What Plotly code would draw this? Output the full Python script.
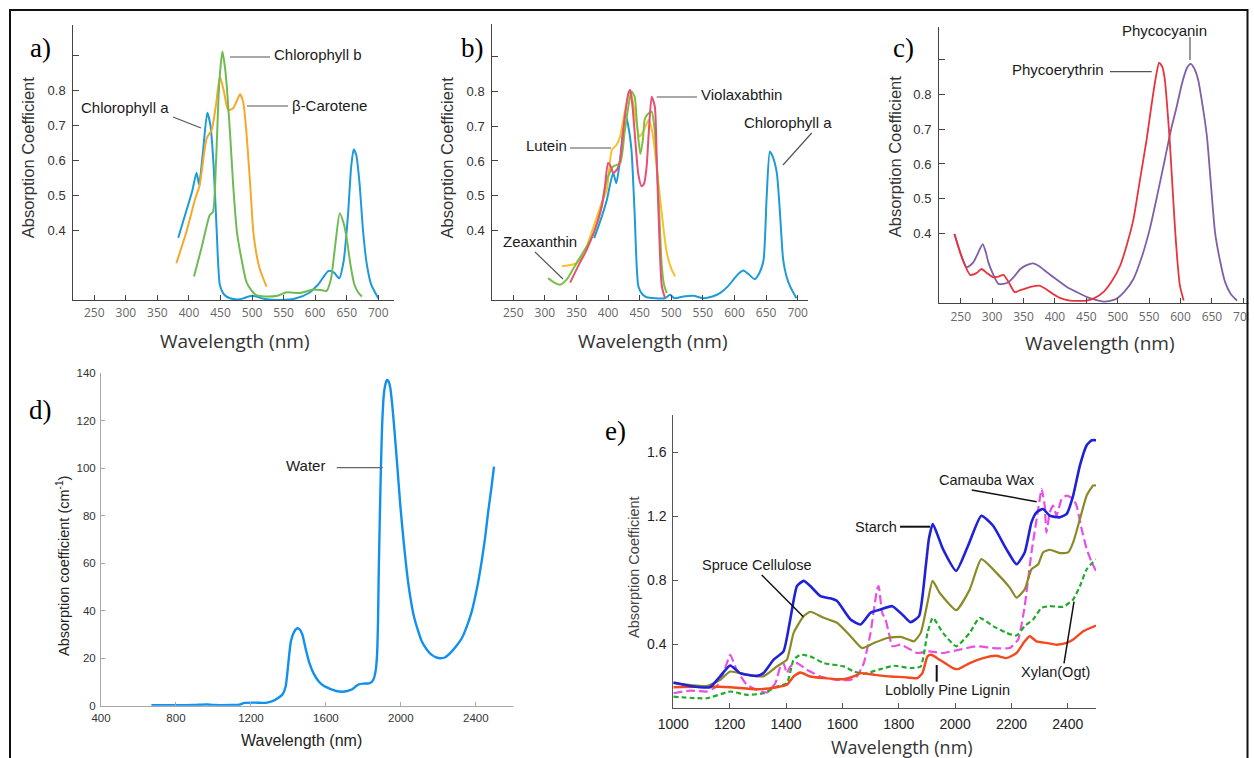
import plotly.graph_objects as go

# ---------------- data ----------------
# a) chlorophylls / carotene
a_chla_x = [383, 395, 405, 412, 416, 422, 429, 434, 439, 444, 449, 456, 465, 480, 500, 520, 545, 570, 590, 605, 621, 630, 638, 645, 652, 657, 661, 665, 670, 676, 682, 689, 700]
a_chla_y = [0.378, 0.45, 0.51, 0.564, 0.53, 0.62, 0.735, 0.70, 0.586, 0.395, 0.243, 0.215, 0.205, 0.202, 0.212, 0.203, 0.2, 0.205, 0.22, 0.245, 0.283, 0.278, 0.262, 0.31, 0.443, 0.58, 0.63, 0.615, 0.54, 0.395, 0.30, 0.243, 0.205]
a_chlb_x = [408, 420, 433, 438, 443, 448, 453, 458, 465, 470, 476, 484, 491, 500, 507, 520, 540, 555, 576, 597, 610, 618, 625, 632, 639, 645, 650, 656, 662, 668, 674]
a_chlb_y = [0.267, 0.35, 0.443, 0.452, 0.6, 0.82, 0.91, 0.85, 0.68, 0.53, 0.395, 0.31, 0.252, 0.225, 0.214, 0.21, 0.212, 0.222, 0.22, 0.23, 0.228, 0.226, 0.26, 0.36, 0.448, 0.42, 0.376, 0.30, 0.245, 0.222, 0.21]
a_car_x = [380, 396, 410, 417, 428, 436, 443, 449, 455, 462, 470, 476, 481, 486, 491, 497, 502, 507, 512, 518, 523]
a_car_y = [0.305, 0.395, 0.49, 0.528, 0.662, 0.686, 0.76, 0.838, 0.80, 0.743, 0.748, 0.77, 0.788, 0.765, 0.68, 0.53, 0.395, 0.33, 0.29, 0.26, 0.238]

# b) xanthophylls
b_chla_x = [378, 390, 398, 408, 413, 419, 427, 432, 437, 442, 448, 455, 461, 475, 490, 498, 505, 519, 535, 551, 565, 577, 590, 598, 606, 614, 622, 632, 640, 646, 651, 656, 661, 667, 672, 677, 682, 688, 698]
b_chla_y = [0.378, 0.44, 0.488, 0.565, 0.536, 0.603, 0.737, 0.70, 0.632, 0.45, 0.239, 0.215, 0.208, 0.205, 0.205, 0.215, 0.205, 0.21, 0.212, 0.205, 0.21, 0.22, 0.24, 0.258, 0.275, 0.285, 0.275, 0.26, 0.28, 0.315, 0.5, 0.627, 0.61, 0.565, 0.45, 0.316, 0.27, 0.239, 0.205]
b_lut_x = [327, 350, 365, 377, 390, 398, 406, 413, 419, 427, 435, 442, 450, 457, 464, 468, 472, 477, 482, 488, 493, 500, 506]
b_lut_y = [0.297, 0.306, 0.35, 0.411, 0.48, 0.517, 0.632, 0.645, 0.67, 0.747, 0.804, 0.74, 0.67, 0.69, 0.718, 0.70, 0.66, 0.58, 0.498, 0.40, 0.335, 0.29, 0.268]
b_zea_x = [305, 315, 324, 335, 350, 365, 377, 390, 398, 408, 419, 426, 432, 437, 442, 446, 451, 455, 458, 463, 469, 473, 477, 481, 485, 489, 493]
b_zea_y = [0.263, 0.25, 0.244, 0.26, 0.306, 0.35, 0.392, 0.47, 0.546, 0.584, 0.593, 0.68, 0.756, 0.80, 0.785, 0.70, 0.62, 0.66, 0.72, 0.735, 0.742, 0.70, 0.6, 0.45, 0.297, 0.24, 0.22]
b_vio_x = [340, 355, 365, 377, 390, 395, 400, 404, 408, 414, 419, 426, 432, 435, 439, 443, 448, 453, 457, 461, 465, 469, 474, 477, 480, 485, 490]
b_vio_y = [0.25, 0.306, 0.34, 0.392, 0.47, 0.527, 0.594, 0.585, 0.565, 0.575, 0.603, 0.72, 0.794, 0.804, 0.75, 0.66, 0.56, 0.527, 0.535, 0.584, 0.70, 0.785, 0.756, 0.6, 0.44, 0.24, 0.206]

# c) phycobilins
c_pe_x = [240, 250, 257, 265, 275, 283, 292, 302, 310, 318, 326, 336, 345, 355, 365, 375, 385, 397, 410, 424, 437, 450, 463, 477, 490, 504, 515, 525, 535, 546, 553, 560, 566, 571, 575, 579, 583, 587, 591, 595, 599, 605]
c_pe_y = [0.398, 0.34, 0.307, 0.28, 0.285, 0.297, 0.285, 0.273, 0.275, 0.28, 0.26, 0.23, 0.236, 0.242, 0.247, 0.249, 0.24, 0.225, 0.212, 0.206, 0.205, 0.206, 0.213, 0.23, 0.26, 0.307, 0.37, 0.44, 0.55, 0.67, 0.76, 0.843, 0.892, 0.88, 0.843, 0.76, 0.661, 0.54, 0.42, 0.32, 0.249, 0.206]
c_pc_x = [240, 250, 259.5, 270, 278, 285, 290, 294, 302, 310, 318, 326, 335, 345, 355, 365, 375, 387, 400, 419, 435, 451, 465, 477, 488, 498, 510, 525, 538, 551, 563, 575, 585, 594, 602, 610, 616, 622, 628, 635, 642, 648, 655, 663, 671, 680, 690]
c_pc_y = [0.398, 0.34, 0.302, 0.316, 0.345, 0.369, 0.345, 0.316, 0.28, 0.254, 0.254, 0.259, 0.275, 0.297, 0.308, 0.313, 0.305, 0.288, 0.27, 0.245, 0.23, 0.216, 0.208, 0.203, 0.205, 0.211, 0.23, 0.268, 0.33, 0.412, 0.51, 0.613, 0.70, 0.766, 0.83, 0.876, 0.889, 0.875, 0.843, 0.77, 0.68, 0.55, 0.402, 0.32, 0.259, 0.225, 0.206]

# d) water
d_x = [669, 800, 900, 961, 1000, 1100, 1138, 1165, 1220, 1280, 1315, 1345, 1368, 1385, 1395, 1405, 1413, 1430, 1448, 1462, 1475, 1492, 1510, 1535, 1563, 1590, 1617, 1650, 1687, 1715, 1740, 1760, 1776, 1800, 1829, 1845, 1856, 1866, 1873, 1878, 1882, 1888, 1894, 1900, 1909, 1918, 1926, 1935, 1944, 1953, 1962, 1980, 1997, 2015, 2032, 2050, 2068, 2090, 2112, 2140, 2165, 2190, 2210, 2235, 2263, 2295, 2325, 2350, 2378, 2405, 2431, 2450, 2466, 2482, 2497]
d_y = [0.2, 0.2, 0.3, 0.5, 0.3, 0.3, 0.4, 1.2, 1.3, 1.2, 1.9, 3.2, 4.7, 8, 14.3, 22, 27, 31, 32.6, 32, 29.8, 24, 18.5, 13.5, 10.1, 8.3, 7.3, 6.3, 5.9, 6.2, 6.9, 8.2, 9, 9.3, 9.4, 10, 11.5, 15, 21.4, 35, 56.4, 80, 101.4, 118, 130.9, 135.5, 137.2, 136.5, 133.7, 127.5, 119.6, 102, 84.5, 69, 56.4, 46, 38.2, 32, 27, 23.5, 21.4, 20.3, 20, 20.3, 22.1, 25, 28.4, 33, 39.6, 49, 60.7, 71, 81.7, 91, 100.7]

# e) plant materials
e_starch_x = [1000, 1059, 1130, 1166, 1202, 1237, 1297, 1320, 1356, 1391, 1415, 1439, 1463, 1486, 1522, 1557, 1581, 1629, 1664, 1700, 1735, 1777, 1818, 1842, 1872, 1896, 1907, 1921, 1957, 2004, 2046, 2093, 2135, 2182, 2218, 2247, 2271, 2289, 2312, 2336, 2372, 2396, 2419, 2443, 2467, 2485, 2500]
e_starch_y = [0.161, 0.14, 0.132, 0.2, 0.268, 0.22, 0.203, 0.22, 0.304, 0.356, 0.556, 0.765, 0.797, 0.765, 0.702, 0.688, 0.671, 0.556, 0.524, 0.598, 0.618, 0.639, 0.577, 0.539, 0.577, 0.891, 1.06, 1.153, 0.996, 0.86, 1.017, 1.205, 1.142, 0.996, 0.901, 0.975, 1.163, 1.226, 1.247, 1.205, 1.195, 1.216, 1.331, 1.52, 1.646, 1.677, 1.677]
e_cell_x = [1000, 1119, 1166, 1202, 1261, 1320, 1368, 1403, 1427, 1463, 1486, 1534, 1581, 1629, 1670, 1712, 1759, 1807, 1854, 1878, 1902, 1920, 1945, 2004, 2052, 2093, 2146, 2194, 2218, 2247, 2271, 2295, 2312, 2336, 2372, 2401, 2419, 2443, 2467, 2490, 2500]
e_cell_y = [0.157, 0.14, 0.178, 0.23, 0.21, 0.2, 0.262, 0.304, 0.472, 0.577, 0.604, 0.566, 0.535, 0.451, 0.377, 0.409, 0.44, 0.447, 0.419, 0.472, 0.66, 0.797, 0.723, 0.614, 0.744, 0.933, 0.849, 0.755, 0.692, 0.744, 0.87, 0.901, 0.975, 0.992, 0.971, 0.975, 1.038, 1.184, 1.331, 1.394, 1.394]
e_xylan_x = [1000, 1119, 1202, 1261, 1320, 1368, 1403, 1427, 1451, 1486, 1534, 1605, 1640, 1676, 1735, 1783, 1842, 1878, 1902, 1921, 1957, 2004, 2052, 2087, 2135, 2182, 2218, 2247, 2277, 2307, 2336, 2384, 2419, 2443, 2467, 2500]
e_xylan_y = [0.073, 0.063, 0.105, 0.084, 0.094, 0.136, 0.157, 0.304, 0.335, 0.325, 0.283, 0.262, 0.231, 0.216, 0.245, 0.266, 0.252, 0.262, 0.472, 0.566, 0.472, 0.388, 0.472, 0.566, 0.514, 0.472, 0.455, 0.514, 0.556, 0.629, 0.639, 0.635, 0.681, 0.765, 0.87, 0.933]
e_lignin_x = [1000, 1119, 1202, 1297, 1368, 1403, 1427, 1451, 1486, 1534, 1605, 1640, 1664, 1712, 1771, 1818, 1866, 1884, 1902, 1915, 1945, 1992, 2010, 2052, 2099, 2146, 2182, 2218, 2247, 2265, 2289, 2324, 2360, 2396, 2419, 2455, 2500]
e_lignin_y = [0.132, 0.136, 0.132, 0.119, 0.132, 0.147, 0.199, 0.224, 0.199, 0.189, 0.182, 0.199, 0.22, 0.21, 0.199, 0.195, 0.189, 0.22, 0.325, 0.335, 0.304, 0.252, 0.245, 0.283, 0.314, 0.329, 0.314, 0.346, 0.419, 0.451, 0.419, 0.409, 0.398, 0.409, 0.43, 0.482, 0.518]
e_wax_x = [1000, 1059, 1119, 1154, 1178, 1202, 1225, 1261, 1297, 1332, 1362, 1380, 1391, 1403, 1415, 1439, 1474, 1522, 1581, 1629, 1652, 1676, 1700, 1723, 1729, 1741, 1753, 1765, 1777, 1807, 1842, 1866, 1909, 1957, 2016, 2075, 2135, 2194, 2224, 2247, 2271, 2295, 2307, 2318, 2324, 2336, 2348, 2360, 2378, 2396, 2419, 2431, 2449, 2467, 2485, 2500]
e_wax_y = [0.094, 0.111, 0.105, 0.136, 0.22, 0.335, 0.241, 0.147, 0.115, 0.099, 0.157, 0.262, 0.283, 0.22, 0.262, 0.283, 0.241, 0.199, 0.178, 0.178, 0.199, 0.283, 0.472, 0.744, 0.765, 0.598, 0.556, 0.472, 0.388, 0.398, 0.367, 0.346, 0.356, 0.346, 0.367, 0.388, 0.377, 0.377, 0.43, 0.639, 0.975, 1.247, 1.373, 1.268, 1.1, 1.226, 1.268, 1.205, 1.31, 1.331, 1.31, 1.268, 1.122, 0.996, 0.912, 0.86]

vis_ticks = [250, 300, 350, 400, 450, 500, 550, 600, 650, 700]
vis_yticks = [0.4, 0.5, 0.6, 0.7, 0.8]
vis_minor_yticks = [0.9]
d_xticks = [400, 800, 1200, 1600, 2000, 2400]
d_yticks = [0, 20, 40, 60, 80, 100, 120, 140]
e_xticks = [1000, 1200, 1400, 1600, 1800, 2000, 2200, 2400]
e_yticks = [0.4, 0.8, 1.2, 1.6]

# ---------------- layout helpers ----------------
W, H = 1254, 758
def PX(p):
    return p / W
def PY(p):
    return 1 - p / H

fig = go.Figure()

def add(x, y, color, axis, width=2, dash=None, smooth=0.6):
    fig.add_trace(go.Scatter(
        x=x, y=y, mode="lines", xaxis="x" + axis, yaxis="y" + axis,
        line=dict(color=color, width=width, dash=dash, shape="spline", smoothing=smooth),
        showlegend=False, hoverinfo="skip"))

# panel a
add(a_chla_x, a_chla_y, "#1c9bd8", "", 2)
add(a_car_x, a_car_y, "#f5a82a", "", 2)
add(a_chlb_x, a_chlb_y, "#6fbb52", "", 2)
# panel b
add(b_chla_x, b_chla_y, "#1c9bd8", "2", 2)
add(b_lut_x, b_lut_y, "#f8c12a", "2", 2)
add(b_zea_x, b_zea_y, "#7ac143", "2", 2)
add(b_vio_x, b_vio_y, "#e84f72", "2", 2)
# panel c
add(c_pc_x, c_pc_y, "#7f5fa8", "3", 1.8)
add(c_pe_x, c_pe_y, "#e8343c", "3", 1.8)
# panel d
add(d_x, d_y, "#1190ee", "4", 2.4, smooth=0.5)
# panel e
add(e_wax_x, e_wax_y, "#ea4fe4", "5", 2.2, dash="9px,4px", smooth=0.4)
add(e_xylan_x, e_xylan_y, "#22aa2a", "5", 2.2, dash="5px,3px", smooth=0.5)
add(e_lignin_x, e_lignin_y, "#f4491e", "5", 2.4, smooth=0.5)
add(e_cell_x, e_cell_y, "#8a8a26", "5", 2.2, smooth=0.5)
add(e_starch_x, e_starch_y, "#1f22d6", "5", 2.6, smooth=0.5)

def xax(dom, rng, ticks, font, color="#444", standoff=2, tlen=5):
    return dict(domain=[PX(dom[0]), PX(dom[1])], range=rng, tickvals=ticks,
                showline=True, linecolor=color, linewidth=1, ticks="inside",
                ticklen=tlen, tickcolor=color, showgrid=False, zeroline=False,
                tickfont=font, ticklabelstandoff=standoff, fixedrange=True,
                automargin=False)

def yax(dom, rng, ticks, anchor, font, color="#444", standoff=4, tlen=6, minor=None):
    d = dict(domain=[PY(dom[1]), PY(dom[0])], range=rng, tickvals=ticks,
             showline=True, linecolor=color, linewidth=1, ticks="inside",
             ticklen=tlen, tickcolor=color, showgrid=False, zeroline=False,
             tickfont=font, anchor=anchor, ticklabelstandoff=standoff, fixedrange=True,
             automargin=False)
    if minor is not None:
        d["minor"] = dict(tickvals=minor, ticks="inside", ticklen=tlen, tickcolor=color, showgrid=False)
    return d

vis_xfont = dict(family="Open Sans", size=12, color="#666")
vis_yfont = dict(family="Liberation Sans, Arial", size=13, color="#333")
d_font = dict(family="Liberation Sans, Arial", size=11.5, color="#333")
e_font = dict(family="Liberation Sans, Arial", size=14, color="#222")

fig.update_layout(
    width=W, height=H, margin=dict(l=0, r=0, t=0, b=0, autoexpand=False),
    paper_bgcolor="white", plot_bgcolor="white",
    xaxis=xax((73.3, 394.3), [216.7, 725.4], vis_ticks, vis_xfont),
    yaxis=yax((25, 300), [0.2, 0.986], vis_yticks, "x", vis_yfont, minor=vis_minor_yticks),
    xaxis2=dict(xax((492.3, 808.3), [216.8, 716.8], vis_ticks, vis_xfont), anchor="y2"),
    yaxis2=yax((24, 300), [0.2, 0.994], vis_yticks, "x2", vis_yfont, minor=vis_minor_yticks),
    xaxis3=dict(xax((939, 1252), [215.4, 713.8], vis_ticks, vis_xfont), anchor="y3"),
    yaxis3=yax((26.7, 303.3), [0.198, 0.996], vis_yticks, "x3", vis_yfont, minor=vis_minor_yticks),
    xaxis4=dict(xax((101, 513.3), [400, 2600], d_xticks, d_font,
                    color="#a8a8a8", standoff=1, tlen=4), anchor="y4"),
    yaxis4=yax((373.3, 705.7), [0, 140], d_yticks, "x4", d_font,
               color="#a8a8a8", standoff=2, tlen=4),
    xaxis5=dict(xax((673.3, 1096), [1000, 2500], e_xticks, e_font,
                    color="#555", standoff=3, tlen=5), anchor="y5"),
    yaxis5=yax((415, 708.3), [0, 1.835], e_yticks, "x5", e_font,
               color="#555", standoff=3, tlen=5),
)

ann = []
def text(t, x, y, size, family="Liberation Sans, Arial", color="#1a1a1a", angle=0):
    ann.append(dict(text=t, x=PX(x), y=PY(y), xref="paper", yref="paper",
                    xanchor="center", yanchor="middle", showarrow=False,
                    textangle=angle, font=dict(family=family, size=size, color=color)))

# panel letters
for t, x, y in [("a)", 40, 48), ("b)", 472.5, 47.5), ("c)", 903, 47.5), ("d)", 40, 410), ("e)", 615, 431)]:
    text(t, x, y, 27, family="Liberation Serif, Times New Roman", color="#000")

# axis titles
for x, y in [(28.3, 157), (446.7, 157.7), (895, 156.3)]:
    text("Absorption Coefficient", x, y, 16.5, color="#333", angle=-90)
for x, y in [(235, 340.7), (653.3, 340.7), (1100, 343.3)]:
    text("Wavelength (nm)", x, y, 19, family="Open Sans", color="#333")
text("Absorption coefficient (cm<sup>-1</sup>)", 63, 566, 14.5, color="#222", angle=-90)
text("Wavelength (nm)", 301, 740, 16, color="#222")
text("Absorption Coefficient", 633.3, 566.7, 14.5, color="#444", angle=-90)
text("Wavelength (nm)", 901.7, 746.7, 18, family="Open Sans", color="#333")

# series labels
lab = 15
text("Chlorophyll a", 125, 107, lab)
text("Chlorophyll b", 318, 54, lab)
text("β-Carotene", 329, 105.3, lab)
text("Violaxabthin", 741.7, 94.3, lab)
text("Chlorophyll a", 788, 122.3, lab)
text("Lutein", 546, 145.7, lab)
text("Zeaxanthin", 540, 241, lab)
text("Phycocyanin", 1164, 30, lab)
text("Phycoerythrin", 1058, 70, lab)
text("Water", 305, 465, 15)
text("Starch", 876, 526.7, 14.5)
text("Spruce Cellulose", 757, 565, 14.5)
text("Camauba Wax", 986.7, 480, 14.5)
text("Loblolly Pine Lignin", 948, 690, 14.5)
text("Xylan(Ogt)", 1055, 671.7, 14.5)

shapes = []
def seg(x0, y0, x1, y1, color="#555", width=1.2):
    shapes.append(dict(type="line", xref="paper", yref="paper",
                       x0=PX(x0), y0=PY(y0), x1=PX(x1), y1=PY(y1),
                       line=dict(color=color, width=width), layer="above"))

seg(173, 117, 201, 128)
seg(230, 57, 270, 57)
seg(247, 106, 288, 106)
seg(656.7, 97, 697, 97)
seg(811.7, 133, 783, 165)
seg(570, 148, 611, 148)
seg(535, 252, 563, 279)
seg(1190, 37, 1190, 60)
seg(1110, 71.7, 1151.7, 71.7)
seg(336.7, 467.7, 382.7, 467.7, color="#666")
seg(900, 526.7, 930, 526.7, color="#111", width=2)
seg(761.7, 575, 803.3, 616.7, color="#111", width=1.5)
seg(971.7, 490, 1036.7, 501.7, color="#111", width=1.5)
seg(936.7, 665, 936.7, 681.7, color="#111", width=2)
seg(1064, 663.3, 1074, 601.7, color="#111", width=1.5)

# white strip beyond the right frame, then the frame itself
shapes.append(dict(type="rect", xref="paper", yref="paper", x0=PX(1248.5), x1=1.0, y0=-0.1, y1=1.1,
                   fillcolor="white", line=dict(width=0), layer="above"))
shapes.append(dict(type="rect", xref="paper", yref="paper", x0=PX(10), x1=PX(1247.5),
                   y0=PY(800), y1=PY(10), line=dict(color="#111", width=2), layer="above"))

fig.update_layout(annotations=ann, shapes=shapes)
fig.write_html("out.html")
